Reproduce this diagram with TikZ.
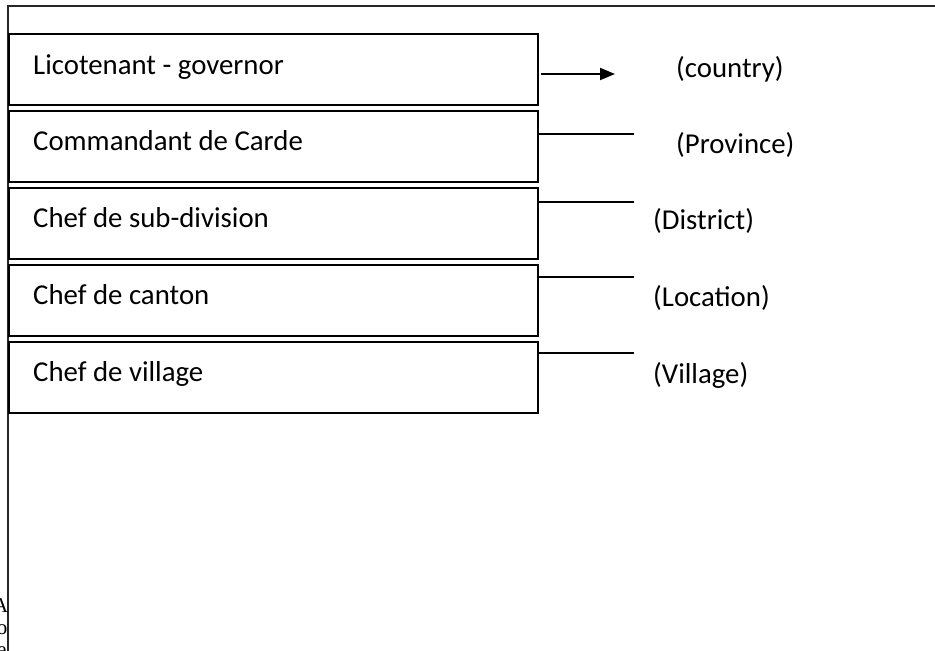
\documentclass[tikz,border=0pt]{standalone}
\usepackage{fontspec}
\setmainfont{Carlito}
\newfontfamily\fragfont{Liberation Serif}
\usetikzlibrary{arrows.meta}
\begin{document}
\begin{tikzpicture}[x=1pt,y=-1pt,
  levelbox/.style={draw=black,line width=1.9pt,minimum width=529pt,minimum height=71pt,inner sep=0pt,anchor=north west},
  boxtext/.style={anchor=base west,inner sep=0pt,font=\fontsize{28.8}{33}\selectfont},
  unittext/.style={anchor=base west,inner sep=0pt,font=\fontsize{28.8}{33}\selectfont},
  fragtext/.style={anchor=base west,inner sep=0pt,font=\fragfont\fontsize{21}{23}\selectfont},
  tie/.style={line width=1.9pt},
  frame/.style={line width=2pt,draw=black!85}]
\useasboundingbox (0,0) rectangle (935,651);
% outer frame
\coordinate (ftl) at (8,6);
\coordinate (ftr) at (935,6);
\coordinate (fbl) at (8,651);
\draw[frame] (ftr) -- (ftl) -- (fbl);
% boxes
\node[levelbox] (b1) at (8,33) {};
\node[levelbox] (b2) at (8,110) {};
\node[levelbox] (b3) at (8,187) {};
\node[levelbox] (b4) at (8,264) {};
\node[levelbox] (b5) at (8,341) {};
% box texts
\node[boxtext] (t1) at (33,74) {Licotenant - governor};
\node[boxtext] (t2) at (33,150) {Commandant de Carde};
\node[boxtext] (t3) at (33,227) {Chef de sub-division};
\node[boxtext] (t4) at (33,304) {Chef de canton};
\node[boxtext] (t5) at (33,381) {Chef de village};
% unit labels
\node[unittext] (u1) at (676,77) {(country)};
\node[unittext] (u2) at (676,153) {(Province)};
\node[unittext] (u3) at (653,229) {(District)};
\node[unittext] (u4) at (653,306) {(Location)};
\node[unittext] (u5) at (653,383) {(Village)};
% connectors
\coordinate (a1s) at (541,74);
\coordinate (a1e) at (615,74);
\draw[tie,-{Triangle[length=15pt,width=12pt]}] (a1s) -- (a1e);
\coordinate (e2) at (634,134);
\coordinate (e3) at (634,202);
\coordinate (e4) at (634,277);
\coordinate (e5) at (634,353);
\draw[tie] (b2.east |- e2) -- (e2);
\draw[tie] (b3.east |- e3) -- (e3);
\draw[tie] (b4.east |- e4) -- (e4);
\draw[tie] (b5.east |- e5) -- (e5);
% cut-off text fragments at the lower left
\begin{scope}
\clip (0,580) rectangle (7,651);
\node[fragtext] (f1) at (-7,612) {As};
\node[fragtext] (f2) at (-7,634) {'o};
\node[fragtext] (f3) at (-3,656) {e};
\end{scope}
\end{tikzpicture}
\end{document}
